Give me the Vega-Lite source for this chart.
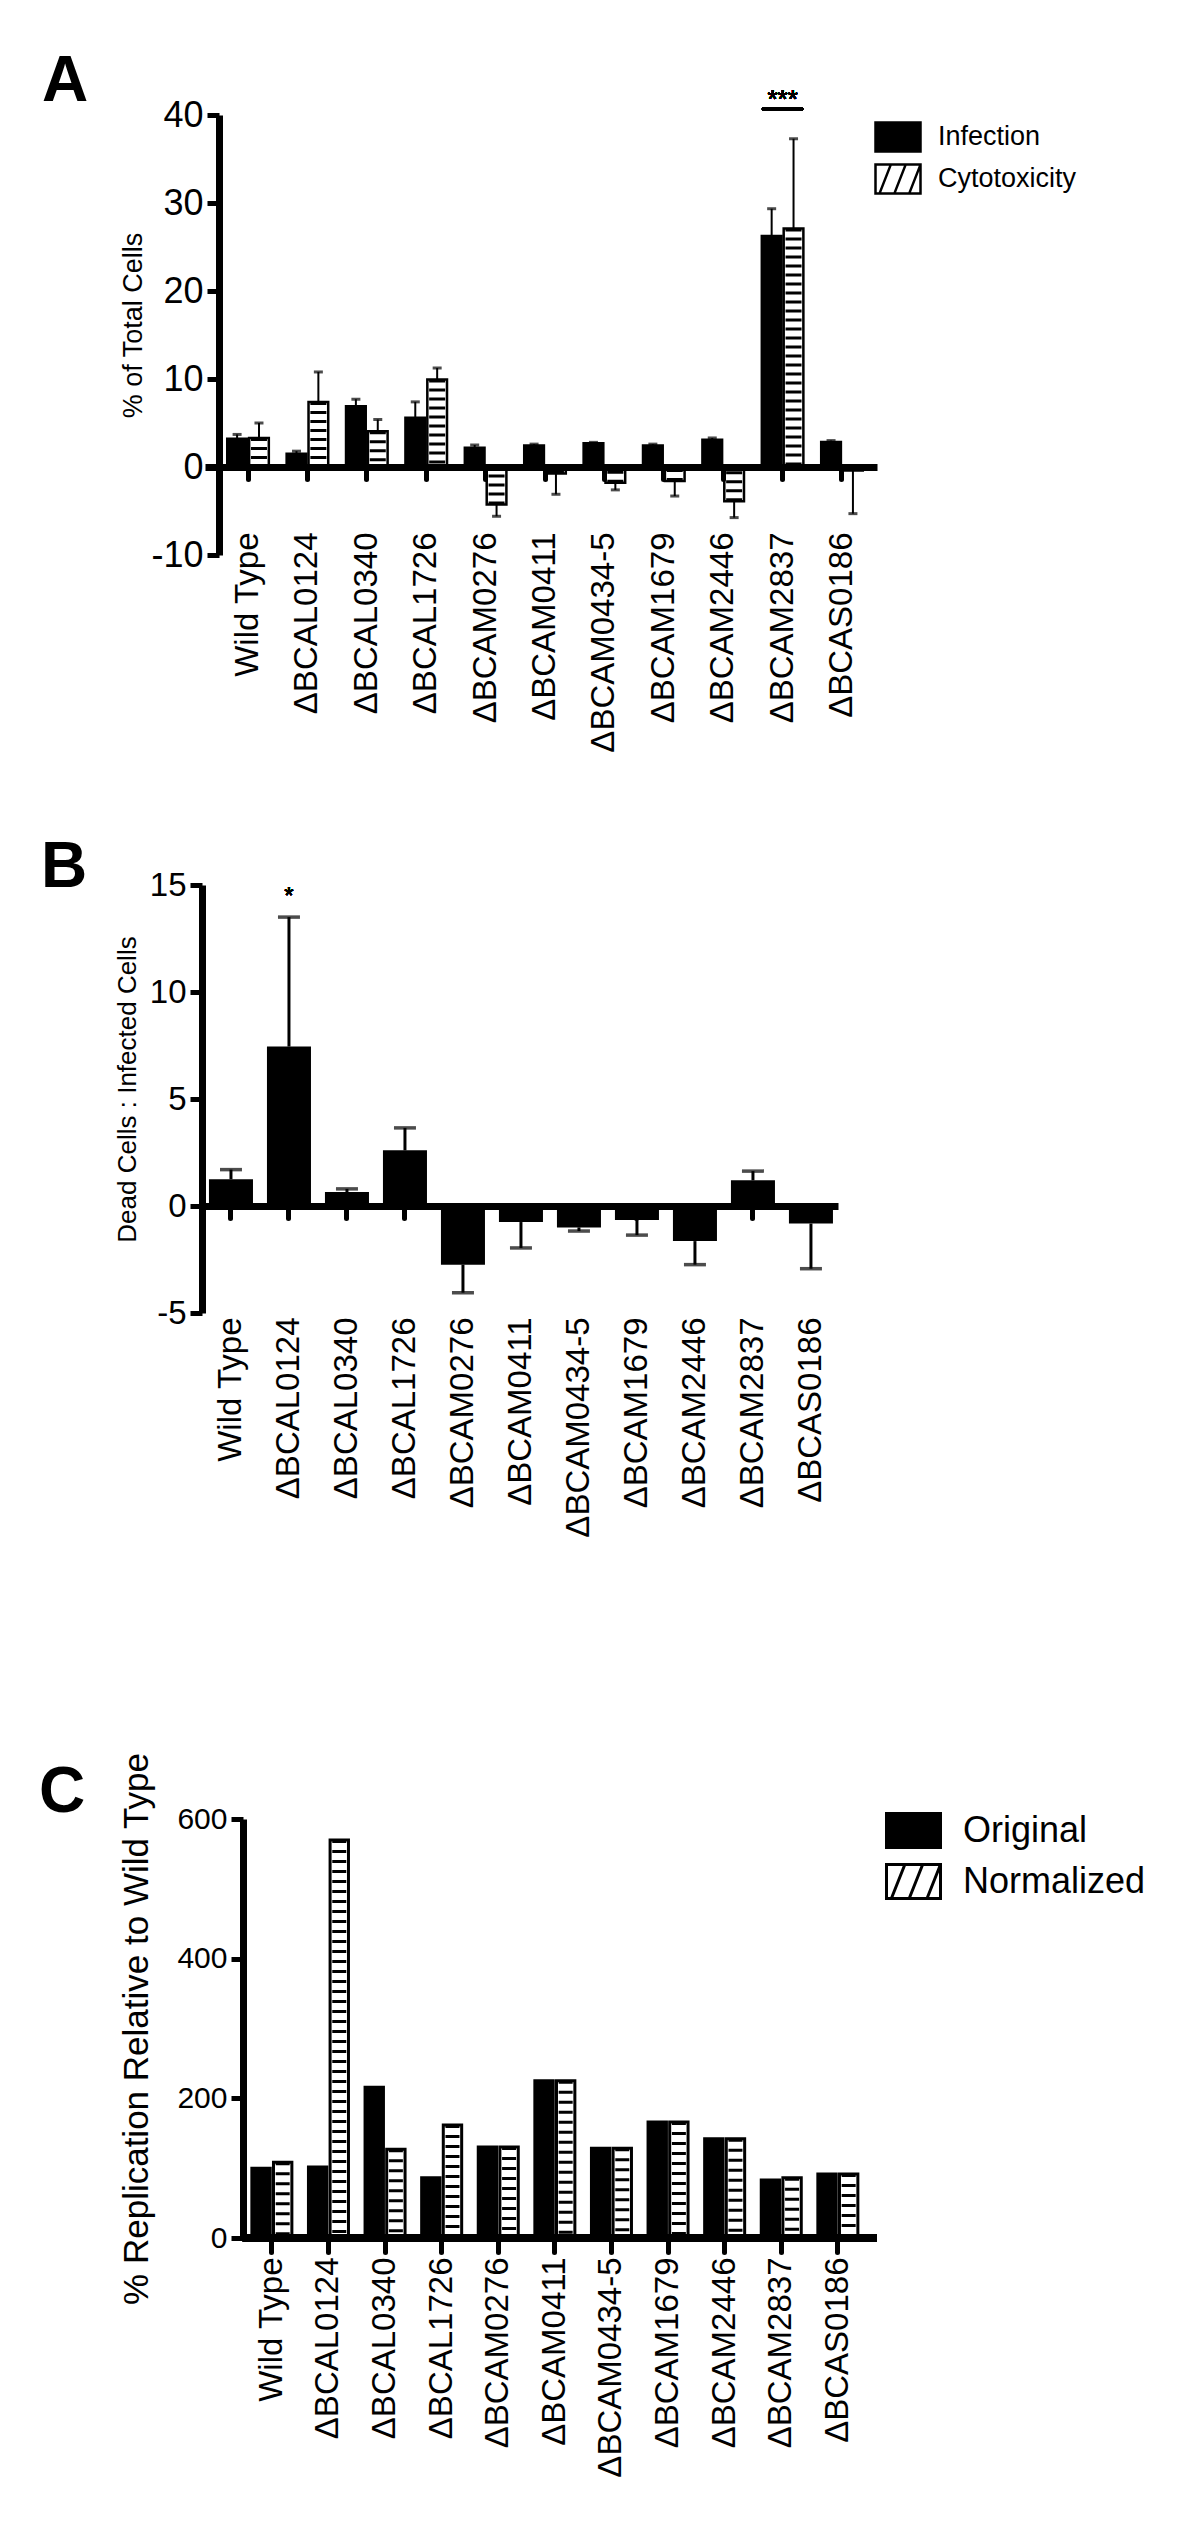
{
  "$schema": "https://vega.github.io/schema/vega-lite/v6.json",
  "background": "white",
  "padding": {"left": 39, "top": 50, "right": 0, "bottom": 0},
  "config": {
    "view": {"stroke": null},
    "axis": {"grid": false, "domainColor": "black", "tickColor": "black", "labelColor": "black", "titleColor": "black", "labelLimit": 400, "titleLimit": 1000, "titleFontWeight": "normal"},
    "legend": {"labelLimit": 400}
  },
  "resolve": {"scale": {"color": "independent", "xOffset": "independent", "x": "independent", "y": "independent"}, "legend": {"color": "independent"}},
  "datasets": {
    "a": [
      {"strain": "Wild Type", "series": "Infection", "value": 3.2, "err": 3.7},
      {"strain": "Wild Type", "series": "Cytotoxicity", "value": 3.3, "err": 5.0},
      {"strain": "ΔBCAL0124", "series": "Infection", "value": 1.5, "err": 1.8},
      {"strain": "ΔBCAL0124", "series": "Cytotoxicity", "value": 7.4, "err": 10.8},
      {"strain": "ΔBCAL0340", "series": "Infection", "value": 6.9, "err": 7.7},
      {"strain": "ΔBCAL0340", "series": "Cytotoxicity", "value": 4.05, "err": 5.4},
      {"strain": "ΔBCAL1726", "series": "Infection", "value": 5.6, "err": 7.4},
      {"strain": "ΔBCAL1726", "series": "Cytotoxicity", "value": 9.95, "err": 11.25},
      {"strain": "ΔBCAM0276", "series": "Infection", "value": 2.2, "err": 2.5},
      {"strain": "ΔBCAM0276", "series": "Cytotoxicity", "value": -4.25, "err": -5.6},
      {"strain": "ΔBCAM0411", "series": "Infection", "value": 2.45, "err": 2.6},
      {"strain": "ΔBCAM0411", "series": "Cytotoxicity", "value": -0.75, "err": -3.1},
      {"strain": "ΔBCAM0434-5", "series": "Infection", "value": 2.7, "err": 2.8},
      {"strain": "ΔBCAM0434-5", "series": "Cytotoxicity", "value": -1.8, "err": -2.6},
      {"strain": "ΔBCAM1679", "series": "Infection", "value": 2.45, "err": 2.6},
      {"strain": "ΔBCAM1679", "series": "Cytotoxicity", "value": -1.6, "err": -3.3},
      {"strain": "ΔBCAM2446", "series": "Infection", "value": 3.1, "err": 3.3},
      {"strain": "ΔBCAM2446", "series": "Cytotoxicity", "value": -3.9, "err": -5.75},
      {"strain": "ΔBCAM2837", "series": "Infection", "value": 26.25, "err": 29.35},
      {"strain": "ΔBCAM2837", "series": "Cytotoxicity", "value": 27.1, "err": 37.3},
      {"strain": "ΔBCAS0186", "series": "Infection", "value": 2.85, "err": 3.0},
      {"strain": "ΔBCAS0186", "series": "Cytotoxicity", "value": -0.4, "err": -5.3}
    ],
    "b": [
      {"strain": "Wild Type", "value": 1.25, "err": 1.7},
      {"strain": "ΔBCAL0124", "value": 7.45, "err": 13.5},
      {"strain": "ΔBCAL0340", "value": 0.65, "err": 0.8},
      {"strain": "ΔBCAL1726", "value": 2.6, "err": 3.65},
      {"strain": "ΔBCAM0276", "value": -2.74, "err": -4.05},
      {"strain": "ΔBCAM0411", "value": -0.75, "err": -1.96},
      {"strain": "ΔBCAM0434-5", "value": -1.0, "err": -1.17},
      {"strain": "ΔBCAM1679", "value": -0.66, "err": -1.36},
      {"strain": "ΔBCAM2446", "value": -1.64, "err": -2.74},
      {"strain": "ΔBCAM2837", "value": 1.2, "err": 1.63},
      {"strain": "ΔBCAS0186", "value": -0.82, "err": -2.93}
    ],
    "c": [
      {"strain": "Wild Type", "series": "Original", "value": 100},
      {"strain": "Wild Type", "series": "Normalized", "value": 108.4},
      {"strain": "ΔBCAL0124", "series": "Original", "value": 101.6},
      {"strain": "ΔBCAL0124", "series": "Normalized", "value": 570},
      {"strain": "ΔBCAL0340", "series": "Original", "value": 215.7},
      {"strain": "ΔBCAL0340", "series": "Normalized", "value": 127},
      {"strain": "ΔBCAL1726", "series": "Original", "value": 86.4},
      {"strain": "ΔBCAL1726", "series": "Normalized", "value": 161.8},
      {"strain": "ΔBCAM0276", "series": "Original", "value": 130.3},
      {"strain": "ΔBCAM0276", "series": "Normalized", "value": 130.3},
      {"strain": "ΔBCAM0411", "series": "Original", "value": 225.3},
      {"strain": "ΔBCAM0411", "series": "Normalized", "value": 225.3},
      {"strain": "ΔBCAM0434-5", "series": "Original", "value": 128.4},
      {"strain": "ΔBCAM0434-5", "series": "Normalized", "value": 128.4},
      {"strain": "ΔBCAM1679", "series": "Original", "value": 166},
      {"strain": "ΔBCAM1679", "series": "Normalized", "value": 166},
      {"strain": "ΔBCAM2446", "series": "Original", "value": 142.2},
      {"strain": "ΔBCAM2446", "series": "Normalized", "value": 142.2},
      {"strain": "ΔBCAM2837", "series": "Original", "value": 83},
      {"strain": "ΔBCAM2837", "series": "Normalized", "value": 86.4},
      {"strain": "ΔBCAS0186", "series": "Original", "value": 91.6},
      {"strain": "ΔBCAS0186", "series": "Normalized", "value": 91.6}
    ]
  },
  "columns": 1,
  "spacing": 214,
  "concat": [
    {
      "columns": 1,
      "spacing": 83,
      "resolve": {"scale": {"color": "independent", "xOffset": "independent", "x": "independent", "y": "independent"}, "legend": {"color": "independent"}},
      "concat": [
        {
          "width": 672,
          "height": 440,
          "title": {"text": "A", "anchor": "start", "frame": "group", "font": "Liberation Sans", "fontSize": 64, "fontWeight": "bold", "color": "black", "dx": -163, "dy": 27, "offset": 0},
          "data": {"name": "a"},
          "encoding": {
            "x": {
              "field": "strain", "type": "nominal",
              "scale": {"domain": ["Wild Type", "ΔBCAL0124", "ΔBCAL0340", "ΔBCAL1726", "ΔBCAM0276", "ΔBCAM0411", "ΔBCAM0434-5", "ΔBCAM1679", "ΔBCAM2446", "ΔBCAM2837", "ΔBCAS0186"], "paddingInner": 0.3, "paddingOuter": 0.307, "align": 0.61},
              "axis": {"title": null, "offset": -88, "labelAngle": -90, "labelFont": "Liberation Sans", "labelFontSize": 33, "labelPadding": 53, "tickSize": 12, "tickWidth": 5, "tickCap": "round", "domainWidth": 7, "zindex": 1}
            }
          },
          "layer": [
            {
              "mark": {"type": "bar", "stroke": "black", "strokeWidth": 2.5},
              "encoding": {
                "y": {"field": "value", "type": "quantitative", "title": "% of Total Cells", "scale": {"domain": [-10, 40], "nice": false},
                  "axis": {"offset": -14, "values": [-10, 0, 10, 20, 30, 40], "labelExpr": "'' + datum.value", "labelFont": "Liberation Sans", "labelFontSize": 36, "labelPadding": 4, "tickSize": 12, "tickWidth": 5, "domainWidth": 7, "titleFont": "Liberation Sans", "titleFontSize": 27, "titleAngle": -90, "titleAlign": "center", "titleBaseline": "alphabetic", "titleX": -78, "titleY": 210, "zindex": 1}},
                "xOffset": {"field": "series", "scale": {"domain": ["Infection", "Cytotoxicity"], "paddingInner": 0.1}},
                "color": {"field": "series", "scale": {"domain": ["Infection", "Cytotoxicity"], "range": ["black", "white"]},
                  "legend": {"title": null, "orient": "none", "legendX": 669, "legendY": 2, "padding": 0, "symbolSize": 2025, "clipHeight": 40,
                    "symbolType": "M-1,-0.64H1V0.64H-1Z M-0.82,0.64L-0.32,-0.64 M-0.16,0.64L0.34,-0.64 M0.5,0.64L1,-0.64",
                    "symbolStrokeColor": "black", "symbolStrokeWidth": 2.5,
                    "labelFont": "Liberation Sans", "labelFontSize": 27, "labelColor": "black", "labelOffset": 16,
                    "encode": {"symbols": {"update": {"stroke": {"value": "black"}, "strokeWidth": {"value": 2.5}}}}}}
              }
            },
            {
              "transform": [{"filter": "datum.series === 'Cytotoxicity'"}],
              "mark": {"type": "rule", "color": "black", "strokeWidth": 16, "strokeDash": [3, 6]},
              "encoding": {"y": {"field": "value", "type": "quantitative", "title": "% of Total Cells"}, "y2": {"datum": 0}, "xOffset": {"field": "series"}}
            },
            {
              "mark": {"type": "rule", "color": "black", "strokeWidth": 2},
              "encoding": {"y": {"field": "value", "type": "quantitative", "title": "% of Total Cells"}, "y2": {"field": "err"}, "xOffset": {"field": "series"}}
            },
            {
              "mark": {"type": "tick", "color": "black", "thickness": 3, "size": 9},
              "encoding": {"y": {"field": "err", "type": "quantitative", "title": "% of Total Cells"}, "xOffset": {"field": "series"}}
            },
            {
              "mark": {"type": "bar", "color": "black", "cornerRadius": 2},
              "encoding": {"x": {"datum": "ΔBCAM2837"}, "y": {"datum": 40.45}, "y2": {"datum": 40.91}}
            },
            {
              "mark": {"type": "text", "font": "Liberation Sans", "fontSize": 26, "baseline": "alphabetic", "color": "black"},
              "encoding": {"x": {"datum": "ΔBCAM2837"}, "y": {"datum": 40.74}, "text": {"value": "***"}}
            }
          ]
        },
        {
          "width": 633,
          "height": 428,
          "title": {"text": "B", "anchor": "start", "frame": "group", "font": "Liberation Sans", "fontSize": 64, "fontWeight": "bold", "color": "black", "dx": -164, "dy": 31, "offset": 0},
          "data": {"name": "b"},
          "encoding": {
            "x": {
              "field": "strain", "type": "nominal",
              "scale": {"domain": ["Wild Type", "ΔBCAL0124", "ΔBCAL0340", "ΔBCAL1726", "ΔBCAM0276", "ΔBCAM0411", "ΔBCAM0434-5", "ΔBCAM1679", "ΔBCAM2446", "ΔBCAM2837", "ΔBCAS0186"], "paddingInner": 0.241, "paddingOuter": 0.0776, "align": 0.44},
              "axis": {"title": null, "offset": -107, "labelAngle": -90, "labelFont": "Liberation Sans", "labelFontSize": 33, "labelPadding": 99, "tickSize": 12, "tickWidth": 5, "tickCap": "round", "domainWidth": 7, "zindex": 1}
            }
          },
          "layer": [
            {
              "mark": {"type": "bar", "color": "black"},
              "encoding": {
                "y": {"field": "value", "type": "quantitative", "title": "Dead Cells : Infected Cells", "scale": {"domain": [-5, 15], "nice": false},
                  "axis": {"offset": 3, "values": [-5, 0, 5, 10, 15], "labelExpr": "'' + datum.value", "labelFont": "Liberation Sans", "labelFontSize": 33, "labelPadding": 4, "tickSize": 12, "tickWidth": 5, "domainWidth": 7, "titleFont": "Liberation Sans", "titleFontSize": 26, "titleAngle": -90, "titleAlign": "center", "titleBaseline": "alphabetic", "titleX": -67, "titleY": 204, "zindex": 1}}
              }
            },
            {
              "mark": {"type": "rule", "color": "black", "strokeWidth": 3},
              "encoding": {"y": {"field": "value", "type": "quantitative", "title": "Dead Cells : Infected Cells"}, "y2": {"field": "err"}}
            },
            {
              "mark": {"type": "tick", "color": "black", "thickness": 3.5, "size": 22},
              "encoding": {"y": {"field": "err", "type": "quantitative", "title": "Dead Cells : Infected Cells"}}
            },
            {
              "mark": {"type": "text", "font": "Liberation Sans", "fontSize": 24, "baseline": "alphabetic", "color": "black"},
              "encoding": {"x": {"datum": "ΔBCAL0124"}, "y": {"datum": 14.13}, "text": {"value": "*"}}
            }
          ]
        }
      ]
    },
    {
      "width": 672,
      "height": 419,
      "title": {"text": "C", "anchor": "start", "frame": "group", "font": "Liberation Sans", "fontSize": 64, "fontWeight": "bold", "color": "black", "dx": -166, "dy": 73, "offset": 0},
      "data": {"name": "c"},
      "encoding": {
        "x": {
          "field": "strain", "type": "nominal",
          "scale": {"domain": ["Wild Type", "ΔBCAL0124", "ΔBCAL0340", "ΔBCAL1726", "ΔBCAM0276", "ΔBCAM0411", "ΔBCAM0434-5", "ΔBCAM1679", "ΔBCAM2446", "ΔBCAM2837", "ΔBCAS0186"], "paddingInner": 0.293, "paddingOuter": 0.583, "align": 0.71},
          "axis": {"title": null, "offset": 0, "domain": false, "labelAngle": -90, "labelFont": "Liberation Sans", "labelFontSize": 33, "labelPadding": 5, "tickSize": 14, "tickWidth": 5, "tickCap": "round", "zindex": 1}
        }
      },
      "layer": [
        {
          "mark": {"type": "bar", "stroke": "black", "strokeWidth": 3},
          "encoding": {
            "y": {"field": "value", "type": "quantitative", "title": "% Replication Relative to Wild Type", "scale": {"domain": [0, 600], "nice": false},
              "axis": {"offset": -38, "values": [0, 200, 400, 600], "labelFont": "Liberation Sans", "labelFontSize": 30, "labelPadding": 4, "tickSize": 12, "tickWidth": 5, "domainWidth": 7, "titleFont": "Liberation Sans", "titleFontSize": 35, "titleAngle": -90, "titleAlign": "center", "titleBaseline": "alphabetic", "titleX": -96, "titleY": 209.5, "zindex": 1}},
            "xOffset": {"field": "series", "scale": {"domain": ["Original", "Normalized"], "paddingInner": 0.15}},
            "color": {"field": "series", "scale": {"domain": ["Original", "Normalized"], "range": ["black", "white"]},
              "legend": {"title": null, "orient": "none", "legendX": 680, "legendY": -13, "padding": 0, "symbolSize": 2916, "clipHeight": 49,
                "symbolType": "M-1,-0.63H1V0.63H-1Z M-0.82,0.63L-0.32,-0.63 M-0.16,0.63L0.34,-0.63 M0.5,0.63L1,-0.63",
                "symbolStrokeColor": "black", "symbolStrokeWidth": 3,
                "labelFont": "Liberation Sans", "labelFontSize": 36, "labelColor": "black", "labelOffset": 21,
                "encode": {"symbols": {"update": {"stroke": {"value": "black"}, "strokeWidth": {"value": 3}}}}}}
          }
        },
        {
          "transform": [{"filter": "datum.series === 'Normalized'"}],
          "mark": {"type": "rule", "color": "black", "strokeWidth": 14, "strokeDash": [3, 7]},
          "encoding": {"y": {"field": "value", "type": "quantitative", "title": "% Replication Relative to Wild Type"}, "y2": {"datum": 0}, "xOffset": {"field": "series"}}
        },
        {
          "mark": {"type": "rule", "color": "black", "strokeWidth": 7},
          "encoding": {"x": {"datum": "Wild Type", "bandPosition": -0.225}, "x2": {"value": "width"}, "y": {"datum": 0}}
        }
      ]
    }
  ]
}
